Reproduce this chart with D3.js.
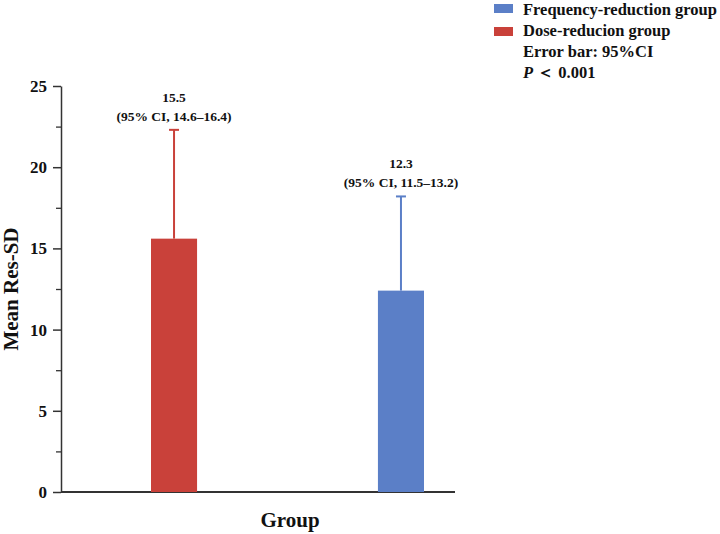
<!DOCTYPE html>
<head>
    <title>Mean Res-SD by group</title>
    <script src="https://d3js.org/d3.v7.min.js"></script>
    <style>
      body { margin: 0; background: #fff; }
      text { font-family: "Liberation Serif", "Times New Roman", serif; font-weight: bold; fill: #111; }
    </style>
</head>

<body>
    <svg width=720 height=534></svg>
</body>

<script>
const groups = ["Dose-reducion group", "Frequency-reduction group"];
const means = [15.6, 12.4];
const upper = [22.3, 18.2];
const meanLabels = ["15.5", "12.3"];
const ciLabels = ["(95% CI, 14.6\u201316.4)", "(95% CI, 11.5\u201313.2)"];
const colors = ["#c9413a", "#5b7fc7"];
const yTicks = [0, 5, 10, 15, 20, 25];
const legendOrder = [1, 0];

const svg = d3.select("svg");
const mLeft = 61, mRight = 455, mTop = 86, mBottom = 492;

const y = d3.scaleLinear().domain([0, 25]).range([mBottom, mTop]);
const x = d3.scaleBand().domain(groups).range([151, 424]).paddingInner(0.797).paddingOuter(0);

// y axis with minor ticks
svg.append("g")
  .attr("transform", `translate(${mLeft},0)`)
  .call(d3.axisLeft(y).tickValues(d3.range(2.5, 25, 5)).tickSize(5).tickFormat(""))
  .call(g => g.select(".domain").remove())
  .selectAll("line").attr("stroke", "#333").attr("stroke-width", 1.3);

const yAxis = svg.append("g")
  .attr("transform", `translate(${mLeft},0)`)
  .call(d3.axisLeft(y).tickValues(yTicks).tickSize(8).tickSizeOuter(0).tickPadding(6));
yAxis.select(".domain").attr("stroke", "#333").attr("stroke-width", 1.5);
yAxis.selectAll("line").attr("stroke", "#333").attr("stroke-width", 1.5);
yAxis.selectAll("text").style("font-size", "17px").attr("font-family", null);

// x axis line
svg.append("line")
  .attr("x1", mLeft).attr("x2", mRight)
  .attr("y1", y(0)).attr("y2", y(0))
  .attr("stroke", "#333").attr("stroke-width", 1.8);

// error bars
groups.forEach((g, i) => {
  const cx = x(g) + x.bandwidth() / 2;
  svg.append("line")
    .attr("x1", cx).attr("x2", cx)
    .attr("y1", y(means[i])).attr("y2", y(upper[i]))
    .attr("stroke", colors[i]).attr("stroke-width", 2);
  svg.append("line")
    .attr("x1", cx - 5).attr("x2", cx + 5)
    .attr("y1", y(upper[i])).attr("y2", y(upper[i]))
    .attr("stroke", colors[i]).attr("stroke-width", 2);
  svg.append("text")
    .attr("x", cx).attr("y", y(upper[i]) - 28)
    .attr("text-anchor", "middle").style("font-size", "13.5px")
    .text(meanLabels[i]);
  svg.append("text")
    .attr("x", cx).attr("y", y(upper[i]) - 9)
    .attr("text-anchor", "middle").style("font-size", "13.5px")
    .text(ciLabels[i]);
});

// bars
svg.selectAll("rect.bar")
  .data(groups)
  .join("rect")
  .attr("class", "bar")
  .attr("x", d => x(d))
  .attr("width", x.bandwidth())
  .attr("y", (d, i) => y(means[i]))
  .attr("height", (d, i) => y(0) - y(means[i]))
  .attr("fill", (d, i) => colors[i]);

// axis titles
svg.append("text")
  .attr("transform", `translate(18,${(mTop + mBottom) / 2}) rotate(-90)`)
  .attr("text-anchor", "middle").style("font-size", "21px")
  .text("Mean Res-SD");

svg.append("text")
  .attr("x", 290).attr("y", 527)
  .attr("text-anchor", "middle").style("font-size", "21px")
  .text("Group");

// legend
const lg = svg.append("g").attr("transform", "translate(494,0)");
legendOrder.forEach((gi, k) => {
  lg.append("rect")
    .attr("x", 0).attr("y", 4 + k * 23).attr("width", 19).attr("height", 9)
    .attr("fill", colors[gi]);
  lg.append("text")
    .attr("x", 29).attr("y", 15 + k * 21)
    .style("font-size", "16.5px")
    .text(groups[gi]);
});
lg.append("text").attr("x", 29).attr("y", 57).style("font-size", "16.5px").text("Error bar: 95%CI");
const pText = lg.append("text").attr("x", 29).attr("y", 78).style("font-size", "16.5px");
pText.append("tspan").style("font-style", "italic").text("P");
pText.append("tspan").text(" \uFF1C 0.001");
</script>
